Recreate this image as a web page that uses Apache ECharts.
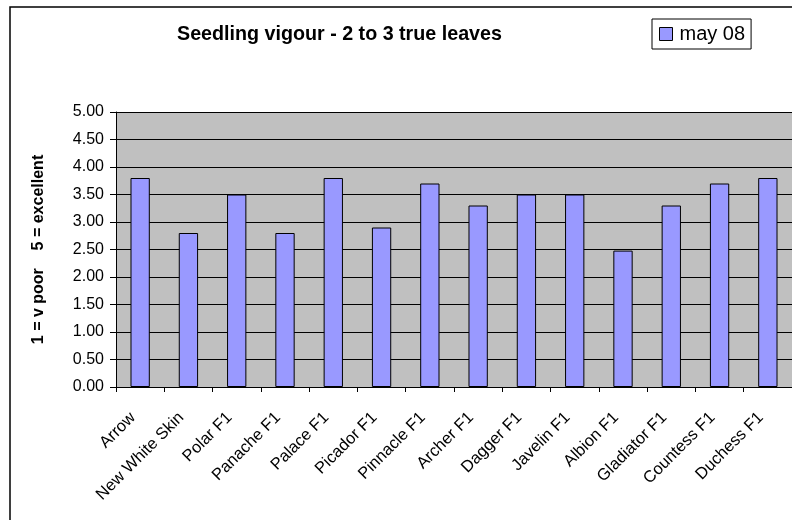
<!DOCTYPE html>
<html>
<head>
<meta charset="utf-8">
<script src="https://cdn.jsdelivr.net/npm/echarts@6/dist/echarts.min.js"></script>
<style>
html,body{margin:0;padding:0;background:#fff;}
#chart{width:792px;height:520px;}
</style>
</head>
<body>
<div id="chart"></div>
<script>
let varieties=["Arrow","New White Skin","Polar F1","Panache F1","Palace F1","Picador F1","Pinnacle F1","Archer F1","Dagger F1","Javelin F1","Albion F1","Gladiator F1","Countess F1","Duchess F1"];
let may08=[3.8,2.8,3.5,2.8,3.8,2.9,3.7,3.3,3.5,3.5,2.48,3.3,3.7,3.8];
let seriesName="may 08";
let titleText="Seedling vigour - 2 to 3 true leaves";
let yName="1 = v poor    5 = excellent";

let font="'Liberation Sans', Arial, sans-serif";
var myChart=echarts.init(document.getElementById("chart"),null,{renderer:"canvas"});
let option={
    animation:false,
    backgroundColor:"#fff",
    title:{
        text:titleText,
        left:177,
        top:25,
        padding:0,
        textStyle:{fontFamily:font,fontSize:19.7,fontWeight:"bold",color:"#000"}
    },
    legend:{
        data:[seriesName],
        left:652,
        top:19,
        padding:[5,6,5,7],
        itemWidth:13,
        itemHeight:13,
        itemGap:0,
        backgroundColor:"#fff",
        borderColor:"#000",
        borderWidth:1,
        icon:"rect",
        itemStyle:{borderColor:"#000",borderWidth:1},
        textStyle:{fontFamily:font,fontSize:20,color:"#000",padding:[2,0,0,2]}
    },
    grid:{
        left:116,
        top:112,
        width:692,
        height:275,
        show:true,
        backgroundColor:"#C0C0C0",
        borderWidth:0
    },
    xAxis:{
        type:"category",
        data:varieties,
        boundaryGap:true,
        axisLine:{lineStyle:{color:"#000",width:1}},
        axisTick:{show:true,length:5,lineStyle:{color:"#000"}},
        axisLabel:{rotate:45,margin:21,padding:[0,10,0,0],fontFamily:font,fontSize:16.5,color:"#000",interval:0}
    },
    yAxis:{
        type:"value",
        min:0,
        max:5,
        interval:0.5,
        name:yName,
        nameLocation:"middle",
        nameRotate:90,
        nameGap:69,
        nameTextStyle:{fontFamily:font,fontSize:16,fontWeight:"bold",color:"#000"},
        axisLine:{show:true,lineStyle:{color:"#000",width:1}},
        axisTick:{show:true,length:6,lineStyle:{color:"#000"}},
        axisLabel:{margin:12,fontFamily:font,fontSize:16,color:"#000",formatter:function(v){return v.toFixed(2);}},
        splitLine:{show:true,lineStyle:{color:"#000",width:1}}
    },
    series:[{
        name:seriesName,
        type:"bar",
        data:may08,
        barWidth:"40%",
        itemStyle:{color:"#9999FF",borderColor:"#000",borderWidth:1}
    }],
    graphic:[{
        type:"rect",
        shape:{x:10,y:7,width:900,height:700},
        style:{fill:null,stroke:"#000",lineWidth:1.5},
        silent:true
    }]
};
myChart.setOption(option);
</script>
</body>
</html>
